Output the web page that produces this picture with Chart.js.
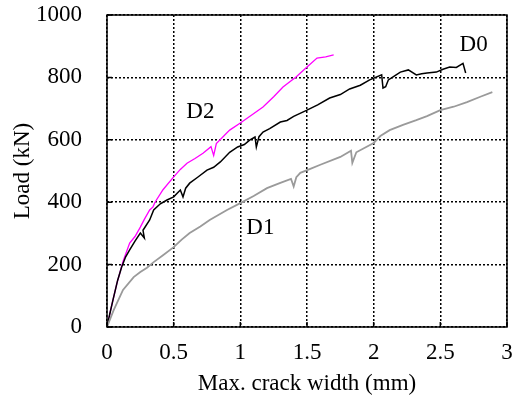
<!DOCTYPE html>
<html>
<head>
<meta charset="utf-8">
<script src="https://cdn.jsdelivr.net/npm/chart.js@4"></script>
<style>
  html, body { margin: 0; padding: 0; background: #fff; }
  #wrap { width: 512px; height: 407px; }
</style>
</head>
<body>
<div id="wrap"><canvas id="chart" width="512" height="407"></canvas></div>
<script>
// crack width (mm) / load (kN)
const d0X = [0, 0.02, 0.045, 0.08, 0.11, 0.14, 0.17, 0.21, 0.25, 0.28, 0.27, 0.32, 0.35, 0.40, 0.45, 0.50, 0.55, 0.57, 0.59, 0.62, 0.68, 0.75, 0.80, 0.85, 0.92, 0.98, 1.03, 1.07, 1.11, 1.12, 1.14, 1.17, 1.22, 1.30, 1.35, 1.40, 1.50, 1.58, 1.67, 1.75, 1.82, 1.90, 1.97, 2.06, 2.07, 2.09, 2.11, 2.16, 2.20, 2.26, 2.32, 2.36, 2.40, 2.47, 2.52, 2.57, 2.62, 2.67, 2.69];
const d0Y = [0, 40, 87, 150, 192, 225, 247, 275, 301, 285, 310, 343, 375, 395, 407, 417, 439, 417, 445, 461, 480, 503, 512, 529, 560, 577, 585, 599, 609, 577, 610, 625, 636, 657, 662, 675, 695, 712, 734, 745, 763, 775, 792, 808, 766, 770, 792, 806, 817, 824, 808, 812, 814, 817, 826, 833, 832, 845, 814];

const d1X = [0, 0.05, 0.12, 0.20, 0.25, 0.30, 0.35, 0.42, 0.50, 0.56, 0.62, 0.70, 0.77, 0.90, 1.00, 1.10, 1.20, 1.30, 1.38, 1.40, 1.42, 1.45, 1.52, 1.60, 1.75, 1.83, 1.84, 1.87, 2.00, 2.05, 2.12, 2.22, 2.32, 2.40, 2.50, 2.60, 2.70, 2.80, 2.89];
const d1Y = [0, 54, 119, 160, 176, 190, 208, 230, 256, 280, 301, 322, 343, 375, 397, 420, 445, 462, 475, 450, 480, 494, 506, 520, 545, 565, 526, 560, 590, 612, 631, 648, 663, 676, 695, 706, 721, 738, 753];

const d2X = [0, 0.03, 0.075, 0.12, 0.17, 0.21, 0.25, 0.28, 0.32, 0.345, 0.36, 0.42, 0.50, 0.55, 0.60, 0.66, 0.72, 0.78, 0.80, 0.82, 0.92, 1.00, 1.08, 1.17, 1.25, 1.32, 1.42, 1.50, 1.575, 1.64, 1.70];
const d2Y = [0, 60, 141, 210, 269, 290, 320, 345, 375, 385, 400, 440, 481, 505, 525, 540, 557, 578, 550, 588, 631, 654, 678, 705, 738, 769, 802, 833, 862, 866, 872];

const xTicks = [0, 0.5, 1, 1.5, 2, 2.5, 3];
const yTicks = [0, 200, 400, 600, 800, 1000];

const labelNames = ['D0', 'D1', 'D2'];
const labelX = [2.75, 1.15, 0.70];
const labelY = [904, 317, 689];

const FONT = "'Liberation Serif', 'Times New Roman', serif";
const FSIZE = 23;

function pts(xs, ys) {
    return xs.map((x, i) => ({ x: x, y: ys[i] }));
}

// frame, inward tick marks and the curve names
const framePlugin = {
    id: 'frame',
    afterDraw(chart) {
        const ctx = chart.ctx;
        const a = chart.chartArea;
        const xs = chart.scales.x, ys = chart.scales.y;
        ctx.save();
        ctx.strokeStyle = '#000';
        ctx.lineWidth = 1.5;
        ctx.strokeRect(a.left, a.top, a.right - a.left, a.bottom - a.top);
        ctx.beginPath();
        xTicks.forEach(v => {
            const px = xs.getPixelForValue(v);
            ctx.moveTo(px, a.bottom);
            ctx.lineTo(px, a.bottom - 5);
        });
        yTicks.forEach(v => {
            const py = ys.getPixelForValue(v);
            ctx.moveTo(a.left, py);
            ctx.lineTo(a.left + 5, py);
        });
        ctx.stroke();
        ctx.fillStyle = '#000';
        ctx.font = FSIZE + 'px ' + FONT;
        ctx.textAlign = 'center';
        ctx.textBaseline = 'middle';
        labelNames.forEach((t, i) => {
            ctx.fillText(t, xs.getPixelForValue(labelX[i]), ys.getPixelForValue(labelY[i]));
        });
        ctx.restore();
    }
};

new Chart(document.getElementById('chart'), {
    type: 'scatter',
    data: {
        datasets: [
            { label: 'D1', data: pts(d1X, d1Y), borderColor: '#9a9a9a', borderWidth: 1.8 },
            { label: 'D0', data: pts(d0X, d0Y), borderColor: '#000000', borderWidth: 1.5 },
            { label: 'D2', data: pts(d2X, d2Y), borderColor: '#ff00ff', borderWidth: 1.3 }
        ].map(ds => Object.assign(ds, { showLine: true, pointRadius: 0, tension: 0, fill: false }))
    },
    options: {
        responsive: false,
        animation: false,
        events: [],
        layout: { padding: { left: 0, right: 5, top: 15, bottom: 0 } },
        plugins: { legend: { display: false }, tooltip: { enabled: false } },
        scales: {
            x: {
                type: 'linear', min: 0, max: 3,
                afterFit: s => { s.height = 80; s.paddingLeft = 0; s.paddingRight = 0; },
                afterBuildTicks: s => { s.ticks = xTicks.map(v => ({ value: v })); },
                ticks: { color: '#000', padding: 12, maxRotation: 0, callback: v => String(v), font: { family: FONT, size: FSIZE } },
                grid: { color: '#000', lineWidth: 1.5, drawTicks: false },
                border: { display: false, dash: [2, 2] },
                title: { display: true, text: 'Max. crack width (mm)', color: '#000', padding: { top: 0, bottom: 9 }, font: { family: FONT, size: FSIZE } }
            },
            y: {
                type: 'linear', min: 0, max: 1000,
                afterFit: s => { s.width = 107; s.paddingTop = 0; s.paddingBottom = 0; },
                afterBuildTicks: s => { s.ticks = yTicks.map(v => ({ value: v })); },
                ticks: { color: '#000', padding: 25, callback: v => String(v), font: { family: FONT, size: FSIZE } },
                grid: { color: '#000', lineWidth: 1.5, drawTicks: false },
                border: { display: false, dash: [2, 2] },
                title: { display: true, text: 'Load (kN)', color: '#000', padding: { top: 9, bottom: 0 }, font: { family: FONT, size: FSIZE } }
            }
        }
    },
    plugins: [framePlugin]
});
</script>
</body>
</html>
